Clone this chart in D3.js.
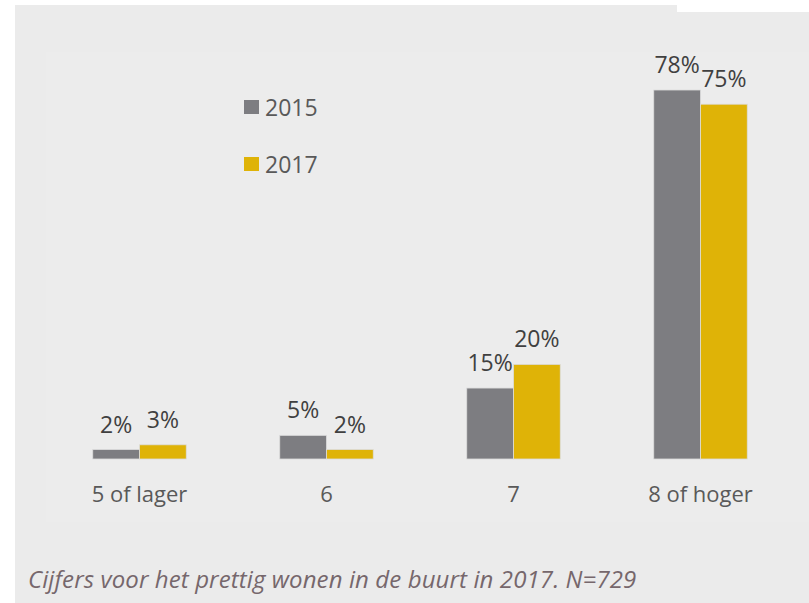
<!DOCTYPE html>
<html>
<head>
<meta charset="utf-8">
<script src="https://cdn.jsdelivr.net/npm/d3@7"></script>
<style>
  body { margin: 0; background: #fff; }
  svg { display: block; }
</style>
</head>
<body>
<div id="chart"></div>
<script>
// chart data
var categories = ["5 of lager", "6", "7", "8 of hoger"];
var seriesNames = ["2015", "2017"];
var values2015 = [2, 5, 15, 78];
var values2017 = [3, 2, 20, 75];
var caption = "Cijfers voor het prettig wonen in de buurt in 2017. N=729";

var colors = ["#7d7d81", "#dfb307"];
var width = 809, height = 603;
var baseY = 459;

var svg = d3.select("#chart").append("svg")
    .attr("width", width)
    .attr("height", height);

// background panels
svg.append("rect").attr("x", 15).attr("y", 5).attr("width", 795).attr("height", 600).attr("fill", "#ebebeb");
svg.append("rect").attr("x", 677).attr("y", 0).attr("width", 132).attr("height", 12).attr("fill", "#ffffff");
svg.append("rect").attr("x", 46).attr("y", 52).attr("width", 763).attr("height", 470).attr("fill", "#ececec");

var x = d3.scaleBand()
    .domain(categories)
    .range([46, 794])
    .paddingInner(0.5)
    .paddingOuter(0.25);

var xs = d3.scaleBand()
    .domain(seriesNames)
    .range([0, x.bandwidth()]);

var y = d3.scaleLinear()
    .domain([0, 78])
    .range([baseY, 90]);

var rows = categories.map(function(c, i) {
    return {cat: c, vals: [values2015[i], values2017[i]]};
});

var groups = svg.selectAll("g.grp")
    .data(rows)
    .join("g")
    .attr("class", "grp")
    .attr("transform", d => "translate(" + x(d.cat) + ",0)");

groups.selectAll("rect")
    .data(d => d.vals.map((v, j) => ({v: v, s: seriesNames[j], j: j})))
    .join("rect")
    .attr("x", d => xs(d.s))
    .attr("y", d => y(d.v))
    .attr("width", xs.bandwidth())
    .attr("height", d => baseY - y(d.v))
    .attr("fill", d => colors[d.j])
    .attr("stroke", "#dcdcdc")
    .attr("stroke-width", 0.8);

groups.selectAll("text.val")
    .data(d => d.vals.map((v, j) => ({v: v, s: seriesNames[j]})))
    .join("text")
    .attr("class", "val")
    .attr("x", d => xs(d.s) + xs.bandwidth() / 2)
    .attr("y", d => y(d.v) - 17)
    .attr("text-anchor", "middle")
    .style("font-family", "Open Sans")
    .style("font-size", "23px")
    .style("fill", "#404040")
    .text(d => d.v + "%");

// category labels
svg.selectAll("text.cat")
    .data(categories)
    .join("text")
    .attr("class", "cat")
    .attr("x", d => x(d) + x.bandwidth() / 2)
    .attr("y", 502)
    .attr("text-anchor", "middle")
    .style("font-family", "Open Sans")
    .style("font-size", "22px")
    .style("fill", "#595959")
    .text(d => d);

// legend
var legend = svg.selectAll("g.leg")
    .data(seriesNames)
    .join("g")
    .attr("class", "leg")
    .attr("transform", (d, i) => "translate(244," + (100 + i * 57) + ")");

legend.append("rect")
    .attr("width", 15)
    .attr("height", 14)
    .attr("fill", (d, i) => colors[i]);

legend.append("text")
    .attr("x", 21)
    .attr("y", 16)
    .style("font-family", "Open Sans")
    .style("font-size", "23px")
    .style("fill", "#595959")
    .text(d => d);

// caption
svg.append("text")
    .attr("x", 28)
    .attr("y", 588)
    .style("font-family", "Open Sans")
    .style("font-style", "italic")
    .style("font-size", "24px")
    .style("letter-spacing", "0.1px")
    .style("fill", "#76676c")
    .text(caption);
</script>
</body>
</html>
